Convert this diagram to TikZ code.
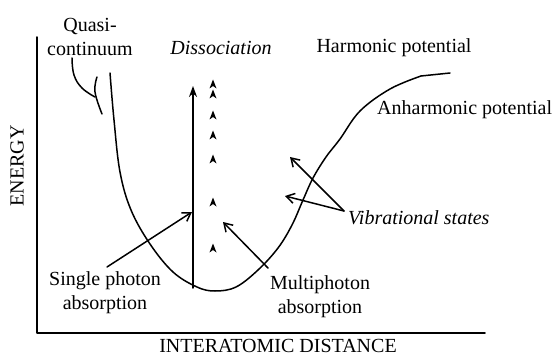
\documentclass[tikz,border=0pt]{standalone}
\usepackage{fontspec}
\setmainfont{Liberation Serif}
\usetikzlibrary{arrows.meta}
\begin{document}
\begin{tikzpicture}[x=1pt,y=-1pt,
  lbl/.style={font=\fontsize{20}{24}\selectfont, inner sep=0pt, align=center},
  ilbl/.style={inner sep=0pt, align=center, font=\fontsize{20}{24}\selectfont\itshape},
  ln/.style={line width=1.5pt, line cap=round, line join=round},
  ptr/.style={ln, -{Straight Barb[length=8pt,width=10pt,line width=1.5pt]}},
  uparrow/.style={ln, -{Stealth[length=11pt,width=8pt]}},
  chev/.style={fill=black}
]
\useasboundingbox (0,0) rectangle (556,358);

% axes
\coordinate (ytop) at (37,37);
\coordinate (orig) at (37,333);
\coordinate (xend) at (485,333);
\draw[ln] (ytop) -- (orig) -- (xend);

% texts
\node[lbl, rotate=90] (energy) at (17,166) {ENERGY};
\node[lbl, anchor=base] (dist) at (278,352) {INTERATOMIC DISTANCE};
\node[lbl] (quasi) at (90,37) {Quasi-\\continuum};
\node[ilbl] (diss) at (221,48) {Dissociation};
\node[lbl] (harm) at (394,48) {Harmonic potential};
\node[lbl, anchor=west] (anharm) at (377,110) {Anharmonic potential};
\node[ilbl, anchor=west] (vib) at (348,218) {Vibrational states};
\node[lbl, align=center] (single) at (105,293) {Single photon\\absorption};
\node[lbl, align=center] (multi) at (320,297) {Multiphoton\\absorption};

% potential curve
\draw[ln] plot[smooth, tension=0.6] coordinates {
  (110,73) (114,120) (120,172) (131,210) (150,244) (173,272) (197,287)
  (215,291) (236,287) (258,270) (278,248) (292,225) (303,200) (313,178)
  (326,157) (340,139) (360,111) (390,89) (421,76)};
\draw[ln] (421,76) -- (450,73);

% quasi-continuum bracket
\draw[ln] plot[smooth, tension=0.7] coordinates {(72,58) (74,75) (82,88) (95,97)};
\draw[ln] plot[smooth, tension=0.7] coordinates {(97,77) (95,92) (102,114)};

% single photon vertical arrow
\coordinate (vbot) at (193,288);
\coordinate (vtop) at (193,86);
\draw[uparrow] (vbot) -- (vtop);

% multiphoton chevrons
\foreach \yy in {84,94,115,135,159,202,248} {
  \fill[chev] (209.5,\yy+4.5) -- (213,\yy-4.5) -- (216.5,\yy+4.5) -- (213,\yy+2) -- cycle;
}

% pointer arrows
\coordinate (s1) at (107,267);
\coordinate (s1tip) at (192,212);
\draw[ptr] (s1) -- (s1tip);
\coordinate (m1) at (268,268);
\coordinate (m1tip) at (223,222);
\draw[ptr] (m1) -- (m1tip);
\coordinate (v0) at (344,211);
\coordinate (v1tip) at (290,157);
\coordinate (v2tip) at (285,196);
\draw[ptr] (v0) -- (v1tip);
\draw[ptr] (v0) -- (v2tip);
\end{tikzpicture}
\end{document}
